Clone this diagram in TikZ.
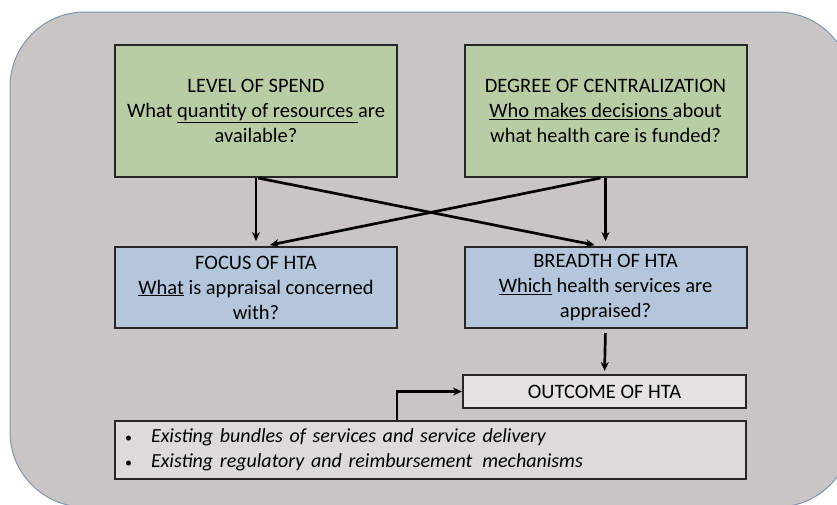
\documentclass[tikz,border=0pt]{standalone}
\usepackage{fontspec}
\setmainfont{Carlito}
\usepackage{tikz}
\usetikzlibrary{arrows.meta, positioning, shapes.geometric}
\definecolor{panelgrey}{HTML}{C9C5C4}
\definecolor{panelline}{HTML}{8095AE}
\definecolor{boxgreen}{HTML}{B9CDA5}
\definecolor{boxblue}{HTML}{B3C6DB}
\definecolor{boxlight}{HTML}{E4E2E2}
\definecolor{boxlist}{HTML}{DCDADA}
\tikzstyle{block} = [rectangle, draw=black!85, line width=2pt, align=center, inner sep=0pt, font=\fontsize{20.5}{25}\selectfont]
\tikzstyle{topbox} = [block, fill=boxgreen, minimum width=282pt, minimum height=132pt]
\tikzstyle{midbox} = [block, fill=boxblue, minimum width=282pt, minimum height=81pt]
\tikzstyle{arrow} = [line width=2.7pt,-{Stealth[length=9pt,width=8pt]}]
\newcommand{\listdot}{\makebox[26pt][l]{\upshape\fontsize{14}{25}\selectfont\textbullet}}

\begin{document}
\begin{tikzpicture}[x=1pt, y=1pt]
    \useasboundingbox (0,0) rectangle (837,-504);
    \clip (0,0) rectangle (837,-504);
    \draw[panelline, fill=panelgrey, line width=1pt, rounded corners=75pt] (10,-12) rectangle (852,-507);

    \node (spend) [topbox] at (256,-111) {LEVEL OF SPEND\\What \underline{quantity of resources }are\\available?};
    \node (central) [topbox] at (605.5,-111) {DEGREE OF CENTRALIZATION\\\underline{Who makes decisions }about\\what health care is funded?};
    \node (focus) [midbox] at (256,-287.5) {FOCUS OF HTA\\\underline{What} is appraisal concerned\\with?};
    \node (breadth) [midbox] at (605.5,-287.5) {BREADTH OF HTA\\\underline{Which} health services are\\appraised?};
    \node (outcome) [block, fill=boxlight, minimum width=283pt, minimum height=33pt] at (604.5,-391.5) {OUTCOME OF HTA};
    \node (factors) [block, fill=boxlist, minimum width=631pt, minimum height=58pt, align=left, text width=611pt, font=\fontsize{20}{25}\selectfont\itshape] at (430.5,-450)
        {\listdot Existing bundles of services and service delivery\\
         \listdot Existing regulatory and reimbursement\, mechanisms};

    \draw[arrow, shorten >=5pt] (spend.south) -- (focus.north);
    \draw[arrow, shorten >=5pt] ([xshift=2pt]spend.south) -- ([xshift=-6pt]breadth.north);
    \draw[arrow, shorten >=5pt] (central.south) -- (breadth.north);
    \draw[arrow, shorten >=5pt] ([xshift=-5pt]central.south) -- ([xshift=9pt]focus.north);
    \draw[arrow, shorten <=4pt, shorten >=3pt] (breadth.south) -- (outcome.north);
    \draw[arrow] ([xshift=-33.5pt]factors.north) |- (outcome.west);
\end{tikzpicture}
\end{document}
